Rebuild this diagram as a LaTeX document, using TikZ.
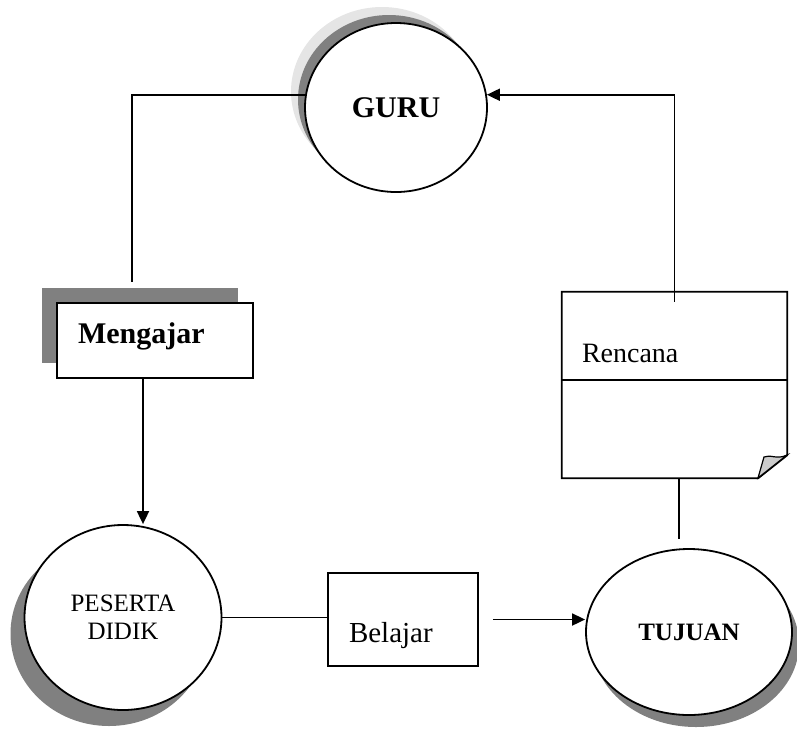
\documentclass[tikz,border=0pt]{standalone}
\usepackage{fontspec}
\setmainfont{Liberation Serif}
\usetikzlibrary{shapes.geometric,shadows,arrows.meta}
\tikzset{
  entitas/.style={ellipse,draw,fill=white,line width=1.8pt,inner sep=0pt},
  proses/.style={rectangle,draw,fill=white,line width=1.8pt,inner ysep=0pt,align=left},
  garis/.style={line width=1.8pt},
  panah/.style={garis,-{Triangle[length=13pt,width=12pt]}}
}
\begin{document}
\begin{tikzpicture}[x=1pt,y=-1pt]
\useasboundingbox (0,0) rectangle (797,729);

% entitas
\node[entitas,minimum width=182pt,minimum height=169pt,
  general shadow={fill=black!10,shadow xshift=-14pt,shadow yshift=16pt},
  general shadow={fill=black!50,shadow xshift=-7pt,shadow yshift=8pt},
  font=\fontsize{30}{36}\selectfont\bfseries] (guru) at (396,107.5) {GURU};
\node[entitas,minimum width=197pt,minimum height=185pt,align=center,
  general shadow={fill=black!50,shadow xshift=-14pt,shadow yshift=-16pt},
  font=\fontsize{25}{28}\selectfont] (peserta) at (123,617.5) {PESERTA\\DIDIK};
\node[entitas,minimum width=206pt,minimum height=166pt,
  general shadow={fill=black!50,shadow xshift=7pt,shadow yshift=-12pt},
  font=\fontsize{25}{30}\selectfont\bfseries] (tujuan) at (689,632) {TUJUAN};

% proses
\node[proses,inner xsep=21pt,text width=154pt,text height=40pt,text depth=35pt,
  general shadow={fill=black!50,shadow xshift=-15pt,shadow yshift=15pt},
  font=\fontsize{30}{36}\selectfont\bfseries] (mengajar) at (155,340.5) {Mengajar};
\node[proses,inner xsep=21pt,text width=108pt,text height=69pt,text depth=24pt,
  font=\fontsize{29}{34}\selectfont] (belajar) at (403,619.5) {Belajar};

% dokumen rencana
\node[rectangle,inner ysep=0pt,inner xsep=20pt,text width=185pt,text height=70pt,
  text depth=116pt,align=left,font=\fontsize{28}{33}\selectfont] (rencana) at (674.5,385) {Rencana};
\draw[garis] (rencana.north west) -- (rencana.north east) -- ([yshift=23pt]rencana.south east)
  -- ([xshift=-29pt]rencana.south east) -- (rencana.south west) -- cycle;
\draw[garis] ([yshift=5pt]rencana.west) -- ([yshift=5pt]rencana.east);
\draw[line width=1.2pt,fill=black!20] (758,478) -- (764,457) .. controls (770,454) and (777,460) .. (787,455) -- cycle;

% alur
\draw[garis] (guru.172) -| ([xshift=-23pt,yshift=20pt]mengajar.north);
\draw[panah] ([xshift=-12pt]mengajar.south) -- ([xshift=-12pt]mengajar.south |- peserta.north);
\draw[garis] (peserta.east) -- (peserta.east -| belajar.west);
\draw[panah,shorten <=14pt] (belajar.east) -- (belajar.east -| tujuan.west);
\draw[garis,shorten >=9pt] ([xshift=4.5pt]rencana.south) -- ([xshift=4.5pt]rencana.south |- tujuan.north);
\draw[panah] ([yshift=-10pt]rencana.north) |- (guru.8);
\end{tikzpicture}
\end{document}
